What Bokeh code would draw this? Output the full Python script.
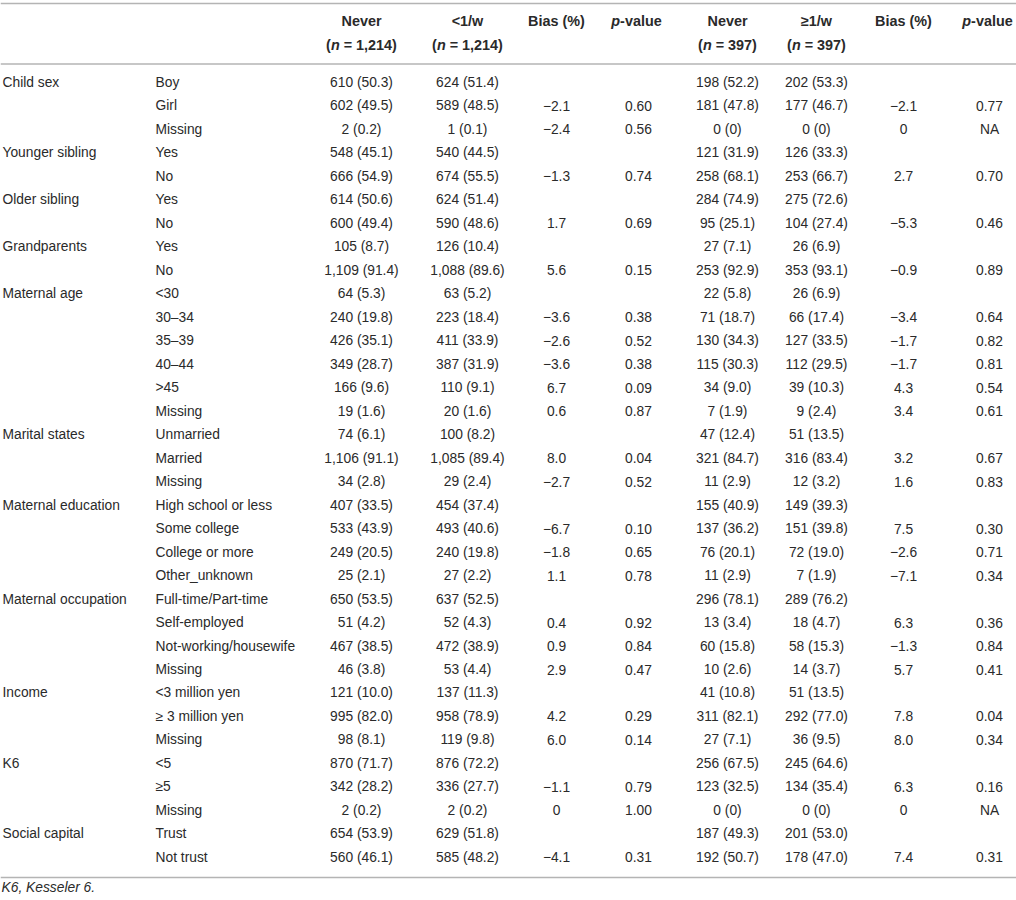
from bokeh.plotting import figure
from bokeh.models import ColumnDataSource, Range1d
from bokeh.core.properties import value
from bokeh.embed import file_html
from bokeh.resources import INLINE

# ---------------- data ----------------
categories = ["Child sex", "", "", "Younger sibling", "", "Older sibling", "", "Grandparents", "",
              "Maternal age", "", "", "", "", "", "Marital states", "", "",
              "Maternal education", "", "", "", "Maternal occupation", "", "", "",
              "Income", "", "", "K6", "", "", "Social capital", ""]
sub_labels = ["Boy", "Girl", "Missing", "Yes", "No", "Yes", "No", "Yes", "No",
              "<30", "30–34", "35–39", "40–44", ">45", "Missing", "Unmarried", "Married", "Missing",
              "High school or less", "Some college", "College or more", "Other_unknown",
              "Full-time/Part-time", "Self-employed", "Not-working/housewife", "Missing",
              "<3 million yen", "≥ 3 million yen", "Missing", "<5", "≥5", "Missing", "Trust", "Not trust"]
never_1 = ["610 (50.3)", "602 (49.5)", "2 (0.2)", "548 (45.1)", "666 (54.9)", "614 (50.6)", "600 (49.4)",
           "105 (8.7)", "1,109 (91.4)", "64 (5.3)", "240 (19.8)", "426 (35.1)", "349 (28.7)", "166 (9.6)",
           "19 (1.6)", "74 (6.1)", "1,106 (91.1)", "34 (2.8)", "407 (33.5)", "533 (43.9)", "249 (20.5)",
           "25 (2.1)", "650 (53.5)", "51 (4.2)", "467 (38.5)", "46 (3.8)", "121 (10.0)", "995 (82.0)",
           "98 (8.1)", "870 (71.7)", "342 (28.2)", "2 (0.2)", "654 (53.9)", "560 (46.1)"]
lt_1w = ["624 (51.4)", "589 (48.5)", "1 (0.1)", "540 (44.5)", "674 (55.5)", "624 (51.4)", "590 (48.6)",
         "126 (10.4)", "1,088 (89.6)", "63 (5.2)", "223 (18.4)", "411 (33.9)", "387 (31.9)", "110 (9.1)",
         "20 (1.6)", "100 (8.2)", "1,085 (89.4)", "29 (2.4)", "454 (37.4)", "493 (40.6)", "240 (19.8)",
         "27 (2.2)", "637 (52.5)", "52 (4.3)", "472 (38.9)", "53 (4.4)", "137 (11.3)", "958 (78.9)",
         "119 (9.8)", "876 (72.2)", "336 (27.7)", "2 (0.2)", "629 (51.8)", "585 (48.2)"]
bias_1 = ["", "−2.1", "−2.4", "", "−1.3", "", "1.7", "", "5.6", "", "−3.6", "−2.6", "−3.6", "6.7", "0.6",
          "", "8.0", "−2.7", "", "−6.7", "−1.8", "1.1", "", "0.4", "0.9", "2.9", "", "4.2", "6.0",
          "", "−1.1", "0", "", "−4.1"]
p_1 = ["", "0.60", "0.56", "", "0.74", "", "0.69", "", "0.15", "", "0.38", "0.52", "0.38", "0.09", "0.87",
       "", "0.04", "0.52", "", "0.10", "0.65", "0.78", "", "0.92", "0.84", "0.47", "", "0.29", "0.14",
       "", "0.79", "1.00", "", "0.31"]
never_2 = ["198 (52.2)", "181 (47.8)", "0 (0)", "121 (31.9)", "258 (68.1)", "284 (74.9)", "95 (25.1)",
           "27 (7.1)", "253 (92.9)", "22 (5.8)", "71 (18.7)", "130 (34.3)", "115 (30.3)", "34 (9.0)",
           "7 (1.9)", "47 (12.4)", "321 (84.7)", "11 (2.9)", "155 (40.9)", "137 (36.2)", "76 (20.1)",
           "11 (2.9)", "296 (78.1)", "13 (3.4)", "60 (15.8)", "10 (2.6)", "41 (10.8)", "311 (82.1)",
           "27 (7.1)", "256 (67.5)", "123 (32.5)", "0 (0)", "187 (49.3)", "192 (50.7)"]
ge_1w = ["202 (53.3)", "177 (46.7)", "0 (0)", "126 (33.3)", "253 (66.7)", "275 (72.6)", "104 (27.4)",
         "26 (6.9)", "353 (93.1)", "26 (6.9)", "66 (17.4)", "127 (33.5)", "112 (29.5)", "39 (10.3)",
         "9 (2.4)", "51 (13.5)", "316 (83.4)", "12 (3.2)", "149 (39.3)", "151 (39.8)", "72 (19.0)",
         "7 (1.9)", "289 (76.2)", "18 (4.7)", "58 (15.3)", "14 (3.7)", "51 (13.5)", "292 (77.0)",
         "36 (9.5)", "245 (64.6)", "134 (35.4)", "0 (0)", "201 (53.0)", "178 (47.0)"]
bias_2 = ["", "−2.1", "0", "", "2.7", "", "−5.3", "", "−0.9", "", "−3.4", "−1.7", "−1.7", "4.3", "3.4",
          "", "3.2", "1.6", "", "7.5", "−2.6", "−7.1", "", "6.3", "−1.3", "5.7", "", "7.8", "8.0",
          "", "6.3", "0", "", "7.4"]
p_2 = ["", "0.77", "NA", "", "0.70", "", "0.46", "", "0.89", "", "0.64", "0.82", "0.81", "0.54", "0.61",
       "", "0.67", "0.83", "", "0.30", "0.71", "0.34", "", "0.36", "0.84", "0.41", "", "0.04", "0.34",
       "", "0.16", "NA", "", "0.31"]

header_top = ["Never", "<1/w", "Bias (%)", None, "Never", "≥1/w", "Bias (%)", None]
header_n = ["1,214", "1,214", None, None, "397", "397", None, None]
footnote = "K6, Kesseler 6."

# ---------------- layout ----------------
W, H = 1016, 900
XR, YR = 1016, 900
sx = XR / W  # data units per pixel
FONT = value("Liberation Sans")
TXT = "#2a2a2a"
BODY = "13.8px"
HEAD = "14.4px"

p = figure(width=W, height=H, x_range=Range1d(0, XR), y_range=Range1d(YR, 0),
           output_backend="svg", toolbar_location=None, x_axis_type=None, y_axis_type=None,
           min_border=0, outline_line_color=None)
p.grid.visible = False
p.background_fill_color = "white"
p.border_fill_color = "white"

# rules
p.segment(x0=[0, 0, 0], x1=[XR, XR, XR], y0=[3, 63.5, 877], y1=[3, 63.5, 877],
          line_color="#b4b4b4", line_width=1.6)

n_rows = len(sub_labels)
row_y = [82 + i * 23.48 for i in range(n_rows)]
src = ColumnDataSource(dict(y=row_y, cat=categories, sub=sub_labels, n1=never_1, l1=lt_1w,
                            b1=bias_1, p1=p_1, n2=never_2, g2=ge_1w, b2=bias_2, p2=p_2))

common = dict(text_font=FONT, text_font_size=BODY, text_color=TXT, text_baseline="middle")
p.text(x=2, y="y", text="cat", source=src, text_align="left", **common)
p.text(x=155, y="y", text="sub", source=src, text_align="left", **common)
centers = [361, 467, 556, 638, 727, 816, 903, 989]
cols = ["n1", "l1", "b1", "p1", "n2", "g2", "b2", "p2"]
for cx, c in zip(centers, cols):
    p.text(x=cx, y="y", text=c, source=src, text_align="center", **common)

# bold Arial/Liberation widths (1/1000 em)
BW = {" ": 278, "(": 333, ")": 333, "=": 584, ",": 278, "-": 333, "n": 611, "p": 611,
      "v": 556, "a": 556, "l": 278, "u": 611, "e": 556}
for d in "0123456789":
    BW[d] = 556
hpx = float(HEAD.replace("px", ""))


def width(s):
    return sum(BW.get(ch, 556) for ch in s) / 1000 * hpx * sx


def mixed(pieces, cx, y):
    total = sum(width(t) for t, _ in pieces)
    x = cx - total / 2
    for t, style in pieces:
        lead = len(t) - len(t.lstrip(" "))
        core = t.strip(" ")
        p.text(x=[x + width(" " * lead)], y=[y], text=[core], text_align="left", text_baseline="middle",
               text_font=FONT, text_font_size=HEAD, text_font_style=style, text_color=TXT)
        x += width(t)


for cx, top, nval in zip(centers, header_top, header_n):
    if top is None:
        mixed([("p", "bold italic"), ("-value", "bold")], cx - 2, 20)
    else:
        p.text(x=[cx], y=[20], text=[top], text_align="center", text_baseline="middle",
               text_font=FONT, text_font_size=HEAD, text_font_style="bold", text_color=TXT)
    if nval is not None:
        mixed([("(", "bold"), ("n", "bold italic"), (" = " + nval + ")", "bold")], cx, 44)

p.text(x=[1], y=[887], text=[footnote], text_align="left", text_baseline="middle",
       text_font=FONT, text_font_size=BODY, text_font_style="italic", text_color=TXT)

open("out.html", "w").write(file_html(p, INLINE))
